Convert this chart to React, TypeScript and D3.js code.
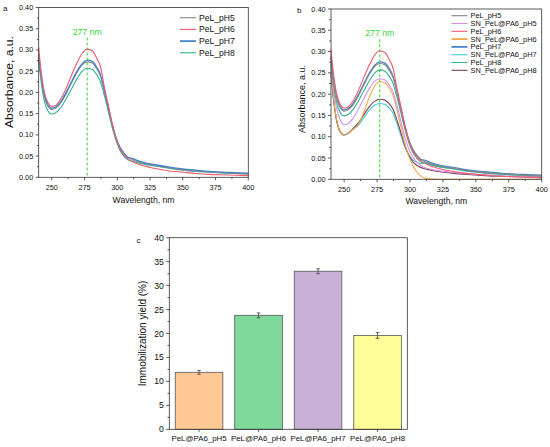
import React from 'react';
import * as d3 from 'd3';

// ---------- DATA ----------
const wavelengths = [240, 242, 244, 247, 250, 253, 257, 261, 265, 269, 273, 277, 281, 284, 287, 290, 293, 296, 299, 302, 305, 308, 311, 315, 320, 330, 340, 350, 360, 370, 380, 390, 400];

const pelPH5 = [0.285, 0.232, 0.196, 0.168, 0.160, 0.163, 0.176, 0.197, 0.222, 0.246, 0.264, 0.272, 0.269, 0.257, 0.240, 0.205, 0.165, 0.125, 0.092, 0.069, 0.056, 0.047, 0.042, 0.037, 0.033, 0.027, 0.022, 0.018, 0.015, 0.013, 0.011, 0.009, 0.008];
const pelPH6 = [0.305, 0.245, 0.205, 0.176, 0.167, 0.170, 0.185, 0.210, 0.240, 0.268, 0.291, 0.302, 0.298, 0.282, 0.262, 0.215, 0.172, 0.128, 0.092, 0.066, 0.052, 0.044, 0.038, 0.032, 0.027, 0.020, 0.015, 0.012, 0.009, 0.007, 0.006, 0.005, 0.004];
const pelPH7 = [0.290, 0.236, 0.199, 0.171, 0.163, 0.166, 0.179, 0.200, 0.225, 0.249, 0.267, 0.276, 0.273, 0.261, 0.243, 0.207, 0.167, 0.127, 0.094, 0.071, 0.057, 0.047, 0.045, 0.040, 0.035, 0.029, 0.024, 0.020, 0.017, 0.014, 0.012, 0.011, 0.010];
const pelPH8 = [0.275, 0.222, 0.184, 0.157, 0.149, 0.152, 0.165, 0.185, 0.208, 0.231, 0.249, 0.257, 0.254, 0.243, 0.226, 0.194, 0.157, 0.119, 0.087, 0.064, 0.050, 0.041, 0.038, 0.035, 0.031, 0.026, 0.021, 0.017, 0.014, 0.012, 0.010, 0.009, 0.008];
const snPH5 = [0.270, 0.210, 0.170, 0.140, 0.128, 0.131, 0.145, 0.166, 0.190, 0.213, 0.230, 0.236, 0.233, 0.222, 0.206, 0.175, 0.137, 0.100, 0.072, 0.053, 0.041, 0.033, 0.028, 0.024, 0.021, 0.017, 0.014, 0.012, 0.010, 0.008, 0.007, 0.006, 0.005];
const snPH6 = [0.260, 0.190, 0.145, 0.113, 0.104, 0.108, 0.118, 0.130, 0.158, 0.192, 0.218, 0.229, 0.226, 0.215, 0.198, 0.165, 0.124, 0.085, 0.055, 0.033, 0.018, 0.008, 0.003, 0.001, 0.000, 0.000, 0.000, 0.000, 0.000, 0.000, 0.000, 0.000, 0.000];
const snPH7 = [0.250, 0.185, 0.142, 0.112, 0.104, 0.108, 0.118, 0.128, 0.145, 0.162, 0.174, 0.178, 0.176, 0.168, 0.156, 0.132, 0.103, 0.077, 0.058, 0.046, 0.040, 0.037, 0.038, 0.035, 0.031, 0.026, 0.021, 0.017, 0.014, 0.012, 0.010, 0.009, 0.008];
const snPH8 = [0.250, 0.185, 0.142, 0.112, 0.104, 0.108, 0.120, 0.133, 0.152, 0.170, 0.183, 0.188, 0.186, 0.178, 0.165, 0.140, 0.110, 0.080, 0.057, 0.042, 0.033, 0.028, 0.025, 0.022, 0.019, 0.015, 0.012, 0.010, 0.008, 0.007, 0.006, 0.005, 0.004];

const seriesNamesA = ['PeL_pH5', 'PeL_pH6', 'PeL_pH7', 'PeL_pH8'];
const seriesNamesB = ['PeL_pH5', 'SN_PeL@PA6_pH5', 'PeL_pH6', 'SN_PeL@PA6_pH6', 'PeL_pH7', 'SN_PeL@PA6_pH7', 'PeL_pH8', 'SN_PeL@PA6_pH8'];

const absTicks = [0, 0.05, 0.1, 0.15, 0.2, 0.25, 0.3, 0.35, 0.4];
const nmTicks = [250, 275, 300, 325, 350, 375, 400];
const peakNm = 277;

const barCategories = ['PeL@PA6_pH5', 'PeL@PA6_pH6', 'PeL@PA6_pH7', 'PeL@PA6_pH8'];
const barValues = [11.9, 23.8, 33.0, 19.6];
const barErrors = [0.4, 0.5, 0.5, 0.6];
const yieldTicks = [0, 5, 10, 15, 20, 25, 30, 35, 40];

// ---------- STYLE ----------
const FONT = "'Liberation Sans', Arial, Helvetica, sans-serif";
const AXIS = '#333';
const GREEN = '#33d633';
const colorMap: Record<string, string> = {
  'PeL_pH5': '#858585',
  'PeL_pH6': '#f25a6e',
  'PeL_pH7': '#4a84c8',
  'PeL_pH8': '#2fb48c',
  'SN_PeL@PA6_pH5': '#d591ea',
  'SN_PeL@PA6_pH6': '#f0a848',
  'SN_PeL@PA6_pH7': '#40d2da',
  'SN_PeL@PA6_pH8': '#7c4050',
};
const dataMap: Record<string, number[]> = {
  'PeL_pH5': pelPH5,
  'PeL_pH6': pelPH6,
  'PeL_pH7': pelPH7,
  'PeL_pH8': pelPH8,
  'SN_PeL@PA6_pH5': snPH5,
  'SN_PeL@PA6_pH6': snPH6,
  'SN_PeL@PA6_pH7': snPH7,
  'SN_PeL@PA6_pH8': snPH8,
};
const barColors = ['#ffc894', '#7fd99b', '#c8b0d7', '#ffff99'];

type SpecProps = {
  left: number; right: number; top: number; bottom: number;
  names: string[];
  legendX: number; legendY: number; legendStep: number; legendFont: number;
  letter: string; letterX: number; letterY: number;
  yTitleX: number; yTitleY: number; yTitleFont: number; yTitleLen: number;
  xTitleY: number; peakLabelY: number; drawOrder: string[];
};

function Spectrum(p: SpecProps) {
  const x = d3.scaleLinear().domain([240, 400]).range([p.left, p.right]);
  const y = d3.scaleLinear().domain([0, 0.4]).range([p.bottom, p.top]);
  const line = d3.line<[number, number]>()
    .x((d) => x(d[0]))
    .y((d) => y(d[1]))
    .curve(d3.curveMonotoneX);
  const minorX = d3.range(262.5, 400, 25);
  const minorY = d3.range(0.025, 0.4, 0.05);
  return (
    <g fontFamily={FONT}>
      {p.drawOrder.map((n) => (
        <path key={n} d={line(wavelengths.map((w, i) => [w, dataMap[n][i]]) as [number, number][]) || ''}
          fill="none" stroke={colorMap[n]} strokeWidth={n === 'PeL_pH7' ? 1.3 : 1.1} />
      ))}
      {/* peak marker */}
      <line x1={x(peakNm)} x2={x(peakNm)} y1={p.peakLabelY + 6} y2={p.bottom}
        stroke={GREEN} strokeWidth={1} strokeDasharray="3,2" />
      <text x={x(peakNm)} y={p.peakLabelY} fontSize={8.7} fill={GREEN} textAnchor="middle" dominantBaseline="central">{peakNm} nm</text>
      {/* frame */}
      <rect x={p.left} y={p.top} width={p.right - p.left} height={p.bottom - p.top} fill="none" stroke={AXIS} strokeWidth={0.8} />
      {/* y ticks */}
      {absTicks.map((t) => (
        <g key={'y' + t}>
          <line x1={p.left - 3} x2={p.left} y1={y(t)} y2={y(t)} stroke={AXIS} strokeWidth={0.8} />
          <text x={p.left - 5.5} y={y(t)} fontSize={7.3} textAnchor="end" dominantBaseline="central" fill="#111">{t.toFixed(2)}</text>
        </g>
      ))}
      {minorY.map((t) => (
        <line key={'my' + t} x1={p.left - 1.8} x2={p.left} y1={y(t)} y2={y(t)} stroke={AXIS} strokeWidth={0.8} />
      ))}
      {nmTicks.map((t) => (
        <g key={'x' + t}>
          <line x1={x(t)} x2={x(t)} y1={p.bottom} y2={p.bottom + 3} stroke={AXIS} strokeWidth={0.8} />
          <text x={x(t)} y={p.bottom + 10.5} fontSize={7.3} textAnchor="middle" dominantBaseline="central" fill="#111">{t}</text>
        </g>
      ))}
      {minorX.map((t) => (
        <line key={'mx' + t} x1={x(t)} x2={x(t)} y1={p.bottom} y2={p.bottom + 1.8} stroke={AXIS} strokeWidth={0.8} />
      ))}
      {/* titles */}
      <text x={(p.left + p.right) / 2} y={p.xTitleY} fontSize={8.6} textAnchor="middle" dominantBaseline="central" fill="#111">Wavelength, nm</text>
      <text transform={`translate(${p.yTitleX},${p.yTitleY}) rotate(-90)`} fontSize={p.yTitleFont} textAnchor="middle"
        dominantBaseline="central" fill="#111" textLength={p.yTitleLen} lengthAdjust="spacingAndGlyphs">Absorbance, a.u.</text>
      <text x={p.letterX} y={p.letterY} fontSize={8} dominantBaseline="central" fill="#111">{p.letter}</text>
      {/* legend */}
      {p.names.map((n, i) => (
        <g key={'lg' + n}>
          <line x1={p.legendX} x2={p.legendX + 16} y1={p.legendY + i * p.legendStep} y2={p.legendY + i * p.legendStep}
            stroke={colorMap[n]} strokeWidth={n === 'PeL_pH7' || n === 'SN_PeL@PA6_pH6' ? 1.8 : 1.1} />
          <text x={p.legendX + 19} y={p.legendY + i * p.legendStep} fontSize={p.legendFont} dominantBaseline="central" fill="#111">{n}</text>
        </g>
      ))}
    </g>
  );
}

function Bars() {
  const left = 169.3, right = 407.3, top = 237.7, bottom = 429.3;
  const x = d3.scaleBand<string>().domain(barCategories).range([left, right]).paddingInner(0.2).paddingOuter(0.1);
  const y = d3.scaleLinear().domain([0, 40]).range([bottom, top]);
  const minor = d3.range(2.5, 40, 5);
  return (
    <g fontFamily={FONT}>
      {barCategories.map((c, i) => {
        const bx = x(c) as number;
        const cx = bx + x.bandwidth() / 2;
        return (
          <g key={c}>
            <rect x={bx} y={y(barValues[i])} width={x.bandwidth()} height={bottom - y(barValues[i])}
              fill={barColors[i]} stroke="#555" strokeWidth={0.8} />
            <line x1={cx} x2={cx} y1={y(barValues[i] + barErrors[i])} y2={y(barValues[i] - barErrors[i])} stroke="#444" strokeWidth={0.8} />
            <line x1={cx - 1.8} x2={cx + 1.8} y1={y(barValues[i] + barErrors[i])} y2={y(barValues[i] + barErrors[i])} stroke="#444" strokeWidth={0.8} />
            <line x1={cx - 1.8} x2={cx + 1.8} y1={y(barValues[i] - barErrors[i])} y2={y(barValues[i] - barErrors[i])} stroke="#444" strokeWidth={0.8} />
            <line x1={cx} x2={cx} y1={bottom} y2={bottom + 2.5} stroke={AXIS} strokeWidth={0.8} />
            <text x={cx} y={bottom + 9.5} fontSize={7.9} textAnchor="middle" dominantBaseline="central" fill="#111">{c}</text>
          </g>
        );
      })}
      <rect x={left} y={top} width={right - left} height={bottom - top} fill="none" stroke={AXIS} strokeWidth={0.8} />
      {yieldTicks.map((t) => (
        <g key={'t' + t}>
          <line x1={left - 3} x2={left} y1={y(t)} y2={y(t)} stroke={AXIS} strokeWidth={0.8} />
          <text x={left - 5.5} y={y(t)} fontSize={8.6} textAnchor="end" dominantBaseline="central" fill="#111">{t}</text>
        </g>
      ))}
      {minor.map((t) => (
        <line key={'m' + t} x1={left - 1.8} x2={left} y1={y(t)} y2={y(t)} stroke={AXIS} strokeWidth={0.8} />
      ))}
      <text transform={`translate(142.3,${(top + bottom) / 2}) rotate(-90)`} fontSize={10} textAnchor="middle"
        dominantBaseline="central" fill="#111">Immobilization yield (%)</text>
      <text x={136.5} y={240} fontSize={8} dominantBaseline="central" fill="#111">c</text>
    </g>
  );
}

export default function App() {
  return (
    <svg width={550} height={447} style={{ position: 'absolute', left: 0, top: 0, background: '#fff' }}>
      <rect width={550} height={447} fill="#fff" />
      <Spectrum left={38.7} right={248.3} top={7.5} bottom={177.3}
        names={seriesNamesA} drawOrder={['PeL_pH8', 'PeL_pH5', 'PeL_pH7', 'PeL_pH6']}
        legendX={180} legendY={17.7} legendStep={11.7} legendFont={8.6}
        letter="a" letterX={3} letterY={8}
        yTitleX={9.5} yTitleY={82} yTitleFont={10} yTitleLen={92}
        xTitleY={200} peakLabelY={31.5} />
      <Spectrum left={331} right={541.7} top={9} bottom={179.3}
        names={seriesNamesB} drawOrder={['SN_PeL@PA6_pH7', 'SN_PeL@PA6_pH8', 'SN_PeL@PA6_pH6', 'SN_PeL@PA6_pH5', 'PeL_pH8', 'PeL_pH7', 'PeL_pH5', 'PeL_pH6']}
        legendX={451.5} legendY={15.7} legendStep={7.8} legendFont={7.4}
        letter="b" letterX={297} letterY={10}
        yTitleX={302} yTitleY={99} yTitleFont={9} yTitleLen={68}
        xTitleY={201} peakLabelY={33.3} />
      <Bars />
    </svg>
  );
}
